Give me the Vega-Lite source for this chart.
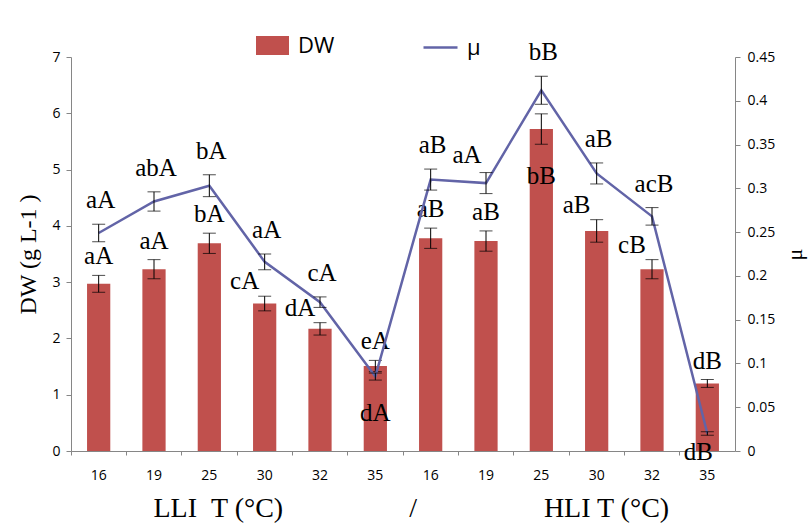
{
  "$schema": "https://vega.github.io/schema/vega-lite/v6.json",
  "autosize": {"type": "none"},
  "width": 664,
  "height": 394,
  "padding": {"left": 71, "top": 57, "right": 75, "bottom": 79},
  "background": "white",
  "config": {
    "view": {"stroke": null},
    "axis": {
      "grid": false,
      "domainColor": "#868686",
      "tickColor": "#868686",
      "labelFont": "Open Sans",
      "labelFontSize": 14,
      "labelColor": "#000000",
      "titleFont": "Liberation Serif",
      "titleFontWeight": "normal",
      "titleColor": "#000000"
    },
    "text": {"font": "Liberation Serif", "fontSize": 25, "color": "#000000", "baseline": "middle", "align": "center"}
  },
  "data": {
    "values": [
      {"key": "L16", "dw": 2.97, "dwErr": 0.15, "mu": 0.249, "muErr": 0.010, "dwLab": "aA", "muLab": "aA"},
      {"key": "L19", "dw": 3.23, "dwErr": 0.17, "mu": 0.285, "muErr": 0.011, "dwLab": "aA", "muLab": "abA"},
      {"key": "L25", "dw": 3.69, "dwErr": 0.18, "mu": 0.303, "muErr": 0.0125, "dwLab": "bA", "muLab": "bA"},
      {"key": "L30", "dw": 2.62, "dwErr": 0.13, "mu": 0.216, "muErr": 0.009, "dwLab": "cA", "muLab": "aA"},
      {"key": "L32", "dw": 2.17, "dwErr": 0.11, "mu": 0.170, "muErr": 0.006, "dwLab": "dA", "muLab": "cA"},
      {"key": "L35", "dw": 1.51, "dwErr": 0.10, "mu": 0.085, "muErr": 0.004, "dwLab": "eA", "muLab": "dA"},
      {"key": "H16", "dw": 3.78, "dwErr": 0.18, "mu": 0.310, "muErr": 0.012, "dwLab": "aB", "muLab": "aB"},
      {"key": "H19", "dw": 3.73, "dwErr": 0.18, "mu": 0.306, "muErr": 0.012, "dwLab": "aB", "muLab": "aA"},
      {"key": "H25", "dw": 5.72, "dwErr": 0.27, "mu": 0.412, "muErr": 0.016, "dwLab": "bB", "muLab": "bB"},
      {"key": "H30", "dw": 3.91, "dwErr": 0.20, "mu": 0.317, "muErr": 0.012, "dwLab": "aB", "muLab": "aB"},
      {"key": "H32", "dw": 3.23, "dwErr": 0.17, "mu": 0.268, "muErr": 0.010, "dwLab": "cB", "muLab": "acB"},
      {"key": "H35", "dw": 1.20, "dwErr": 0.07, "mu": 0.020, "muErr": 0.002, "dwLab": "dB", "muLab": "dB"}
    ]
  },
  "transform": [
    {"calculate": "datum.dw + datum.dwErr", "as": "dwHi"},
    {"calculate": "datum.mu + datum.muErr", "as": "muHi"}
  ],
  "layer": [
    {
      "encoding": {
        "x": {
          "field": "key", "type": "nominal", "sort": null,
          "scale": {"paddingInner": 0, "paddingOuter": 0},
          "axis": {
            "orient": "bottom",
            "ticks": false,
            "domain": true,
            "labelExpr": "slice(datum.label, 1)",
            "labelAngle": 0,
            "labelPadding": 17,
            "title": "LLI\u00a0\u00a0T (°C)\u00a0\u00a0\u00a0\u00a0\u00a0\u00a0\u00a0\u00a0\u00a0\u00a0\u00a0\u00a0\u00a0\u00a0\u00a0\u00a0\u00a0\u00a0/",
            "titleFontSize": 28,
            "titleAlign": "left",
            "titleAnchor": "start",
            "titleX": 82,
            "titlePadding": 12
          }
        }
      },
      "layer": [
        {
          "mark": {"type": "bar", "width": {"band": 0.42}},
          "encoding": {
            "y": {
              "field": "dw", "type": "quantitative",
              "title": "DW (g L-1 )",
              "scale": {"domain": [0, 7]},
              "axis": {
                "orient": "left",
                "values": [0, 1, 2, 3, 4, 5, 6, 7],
                "format": "d",
                "tickSize": 5,
                "labelPadding": 6,
                "titleFontSize": 24,
                "titlePadding": 11
              }
            },
            "color": {
              "datum": "DW",
              "scale": {"range": ["#C0504D"]},
              "legend": {
                "orient": "none",
                "legendX": 185,
                "legendY": -28,
                "title": null,
                "padding": 0,
                "symbolType": "M-1,-0.58L1,-0.58L1,0.58L-1,0.58Z",
                "symbolSize": 1089,
                "symbolStrokeWidth": 0,
                "symbolOpacity": 1,
                "labelFont": "Open Sans",
                "labelFontSize": 22,
                "labelOffset": 9,
                "labelColor": "#000000"
              }
            }
          }
        },
        {
          "mark": {"type": "errorbar", "color": "#000000", "thickness": 1, "ticks": {"size": 13}},
          "encoding": {
            "y": {"field": "dw", "type": "quantitative", "title": "DW (g L-1 )"},
            "yError": {"field": "dwErr"}
          }
        },
        {
          "transform": [{"filter": {"field": "key", "oneOf": ["L16", "L19", "L25", "L35", "H16", "H19", "H35"]}}],
          "mark": {"type": "text", "dy": -19},
          "encoding": {"y": {"field": "dwHi", "type": "quantitative", "title": "DW (g L-1 )"}, "text": {"field": "dwLab"}}
        },
        {
          "transform": [{"filter": {"field": "key", "oneOf": ["L30", "L32", "H30", "H32"]}}],
          "mark": {"type": "text", "dy": -15, "dx": -20},
          "encoding": {"y": {"field": "dwHi", "type": "quantitative", "title": "DW (g L-1 )"}, "text": {"field": "dwLab"}}
        },
        {
          "transform": [{"filter": {"field": "key", "equal": "H25"}}],
          "mark": {"type": "text", "dy": 47},
          "encoding": {"y": {"field": "dw", "type": "quantitative", "title": "DW (g L-1 )"}, "text": {"field": "dwLab"}}
        }
      ]
    },
    {
      "encoding": {
        "x": {
          "field": "key", "type": "nominal", "sort": null,
          "scale": {"paddingInner": 0, "paddingOuter": 0},
          "axis": {
            "orient": "bottom",
            "labels": false,
            "domain": false,
            "ticks": true,
            "tickSize": 4,
            "bandPosition": 0,
            "title": "HLI T (°C)",
            "titleFontSize": 28,
            "titleAlign": "center",
            "titleAnchor": "start",
            "titleX": 535,
            "titlePadding": 39
          }
        }
      },
      "layer": [
        {
          "mark": {"type": "line", "strokeWidth": 2.5},
          "encoding": {
            "y": {
              "field": "mu", "type": "quantitative",
              "title": "μ",
              "scale": {"domain": [0, 0.45]},
              "axis": {
                "orient": "right",
                "values": [0, 0.05, 0.1, 0.15, 0.2, 0.25, 0.3, 0.35, 0.4, 0.45],
                "format": "~g",
                "tickSize": 5,
                "labelPadding": 7,
                "titleFontSize": 22,
                "titleAngle": 270,
                "titleBaseline": "top",
                "titlePadding": 10
              }
            },
            "stroke": {
              "datum": "μ",
              "scale": {"range": ["#6264A7"]},
              "legend": {
                "orient": "none",
                "legendX": 351,
                "legendY": -28,
                "title": null,
                "padding": 0,
                "symbolType": "stroke",
                "symbolSize": 1156,
                "symbolStrokeWidth": 2.5,
                "labelFont": "Open Sans",
                "labelFontSize": 22,
                "labelOffset": 8,
                "labelColor": "#000000"
              }
            }
          }
        },
        {
          "mark": {"type": "errorbar", "color": "#000000", "thickness": 1, "ticks": {"size": 13}},
          "encoding": {
            "y": {"field": "mu", "type": "quantitative", "title": "μ"},
            "yError": {"field": "muErr"}
          }
        },
        {
          "transform": [{"filter": {"field": "key", "oneOf": ["L16", "L19", "L25", "L30", "L32", "H16", "H25", "H30", "H32"]}}],
          "mark": {"type": "text", "dy": -24, "dx": 2},
          "encoding": {"y": {"field": "muHi", "type": "quantitative", "title": "μ"}, "text": {"field": "muLab"}}
        },
        {
          "transform": [{"filter": {"field": "key", "equal": "H19"}}],
          "mark": {"type": "text", "dy": -18, "dx": -19},
          "encoding": {"y": {"field": "muHi", "type": "quantitative", "title": "μ"}, "text": {"field": "muLab"}}
        },
        {
          "transform": [{"filter": {"field": "key", "equal": "L35"}}],
          "mark": {"type": "text", "dy": 36},
          "encoding": {"y": {"field": "mu", "type": "quantitative", "title": "μ"}, "text": {"field": "muLab"}}
        },
        {
          "transform": [{"filter": {"field": "key", "equal": "H35"}}],
          "mark": {"type": "text", "dy": 19, "dx": -9},
          "encoding": {"y": {"field": "mu", "type": "quantitative", "title": "μ"}, "text": {"field": "muLab"}}
        }
      ]
    }
  ],
  "resolve": {"scale": {"y": "independent"}, "axis": {"x": "independent"}}
}
